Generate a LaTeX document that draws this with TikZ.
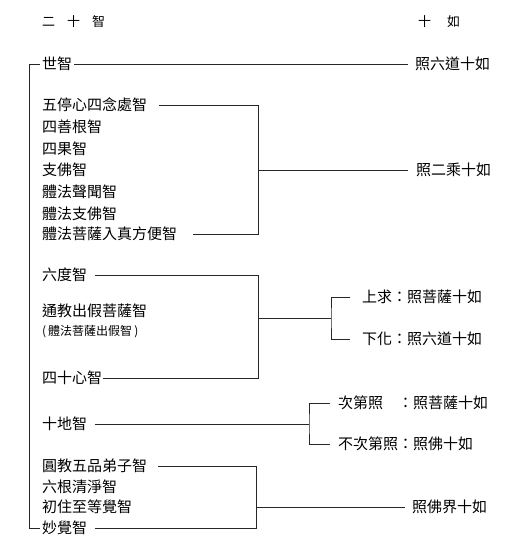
\documentclass[tikz,border=0pt]{standalone}
\usepackage{fontspec}
\newfontfamily\cjk{Noto Sans CJK TC}
\begin{document}
\begin{tikzpicture}[x=1pt,y=-1pt,
  lbl/.style={anchor=west,inner sep=0pt,font=\cjk\fontsize{15}{15}\selectfont},
  smalllbl/.style={anchor=west,inner sep=0pt,font=\cjk\fontsize{12}{12}\selectfont},
  head/.style={anchor=west,inner sep=0pt,font=\cjk\fontsize{13}{13}\selectfont},
  ln/.style={line width=0.8pt,draw=black!85}]
\useasboundingbox[fill=white] (0,0) rectangle (517,558);

% headers
\node[head] (h1) at (42,22) {二\hskip12pt 十\hskip12pt 智};
\node[head] (h2) at (418,22) {十\hskip16pt 如};

% group 1
\node[lbl] (s1) at (42,64) {世智};
\node[lbl] (r1) at (415,64) {照六道十如};
\draw[ln] ([xshift=2pt]s1.east) -- ([xshift=-7pt]r1.west);

% group 2
\node[lbl] (a1) at (42,105) {五停心四念處智};
\node[lbl] (a2) at (42,127) {四善根智};
\node[lbl] (a3) at (42,149) {四果智};
\node[lbl] (a4) at (42,170) {支佛智};
\node[lbl] (a5) at (42,192) {體法聲聞智};
\node[lbl] (a6) at (42,214) {體法支佛智};
\node[lbl] (a7) at (42,234) {體法菩薩入真方便智};
\node[lbl] (r2) at (416,170) {照二乘十如};
\coordinate (B2) at (258,0);
\draw[ln] ([xshift=12pt]a1.east) -| (B2 |- a7.east) -- ([xshift=16pt]a7.east);
\draw[ln] (B2 |- a4.east) -- ([xshift=-8pt]r2.west);

% group 3
\node[lbl] (b1) at (42,275) {六度智};
\node[lbl] (b2) at (42,311) {通教出假菩薩智};
\node[smalllbl] (b3) at (42,332) {(\hspace{2pt}體法菩薩出假智\hspace{2pt})};
\node[lbl] (b4) at (42,378) {四十心智};
\coordinate (B3) at (258,0);
\coordinate (K3) at (331,318);
\draw[ln] ([xshift=8pt]b1.east) -| (B3 |- b4.east) -- ([xshift=1pt]b4.east);
\draw[ln] (B3 |- K3) -- (K3);
\node[lbl] (c1) at (362,297) {上求：照菩薩十如};
\node[lbl] (c2) at (362,339) {下化：照六道十如};
\draw[ln] ([xshift=-12pt]c1.west) -| (K3) |- ([xshift=-12pt]c2.west);

% group 4
\node[lbl] (d1) at (42,424) {十地智};
\coordinate (K4) at (309,0);
\node[lbl] (e1) at (338,403) {次第照　：照菩薩十如};
\node[lbl] (e2) at (338,444) {不次第照：照佛十如};
\draw[ln] ([xshift=8pt]d1.east) -- (K4 |- d1.east);
\draw[ln] ([xshift=-8pt]e1.west) -| (K4 |- d1.east) |- ([xshift=-8pt]e2.west);

% group 5
\node[lbl] (f1) at (42,466) {圓教五品弟子智};
\node[lbl] (f2) at (42,487) {六根清淨智};
\node[lbl] (f3) at (42,507) {初住至等覺智};
\node[lbl] (f4) at (42,528) {妙覺智};
\node[lbl] (r5) at (412,507) {照佛界十如};
\coordinate (B5) at (256,0);
\draw[ln] ([xshift=11pt]f1.east) -| (B5 |- f4.east) -- ([xshift=8pt]f4.east);
\draw[ln] (B5 |- f3.east) -- ([xshift=-7pt]r5.west);

% outer left bracket
\coordinate (L) at (29,0);
\draw[ln] ([xshift=-2pt]s1.west) -| (L |- f4.west) -- ([xshift=-2pt]f4.west);
\end{tikzpicture}
\end{document}
